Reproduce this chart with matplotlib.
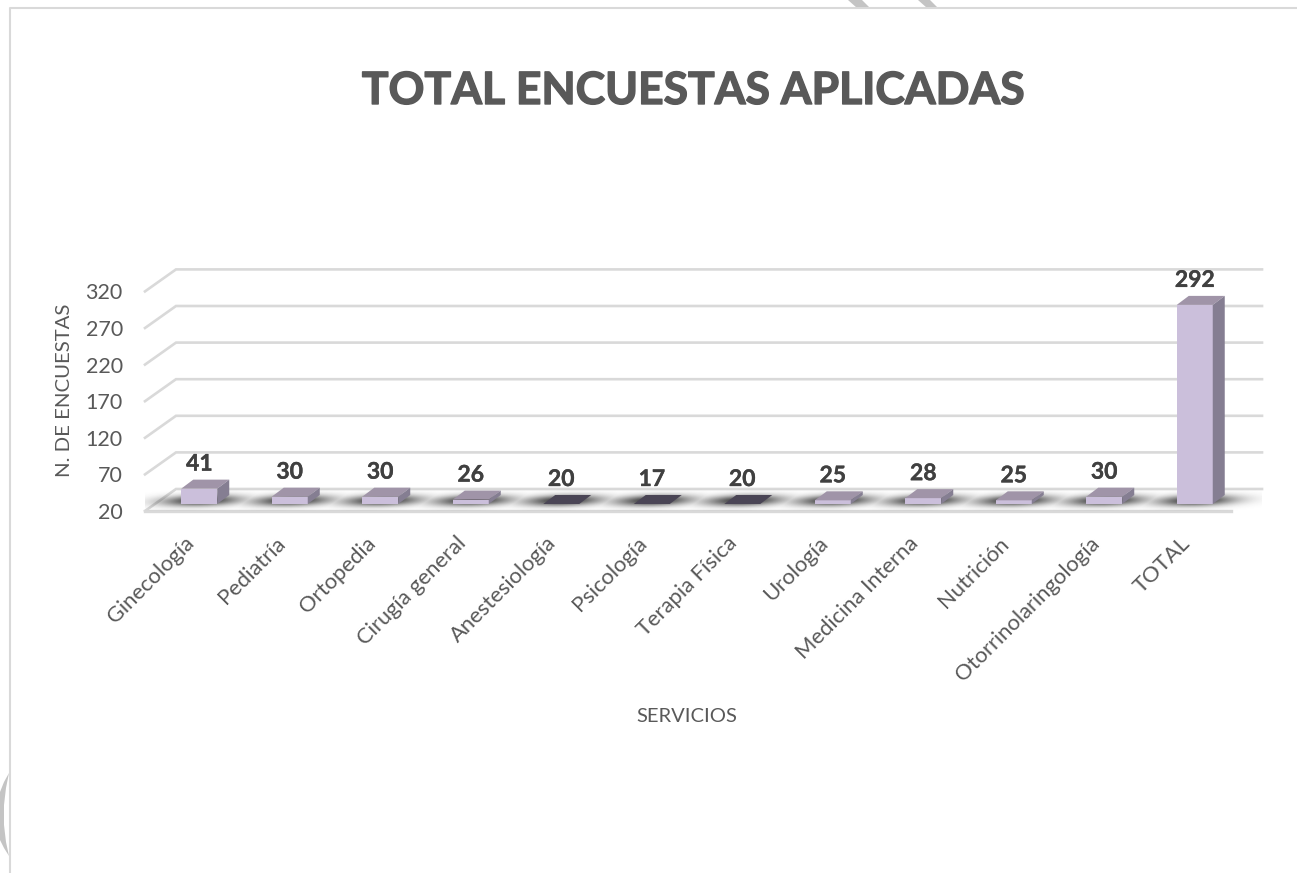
import matplotlib
matplotlib.use("Agg")
import matplotlib.pyplot as plt
import matplotlib.patheffects as pe
from matplotlib.patches import Polygon
from matplotlib.transforms import Affine2D
import numpy as np

plt.rcParams['font.family'] = ['Lato', 'DejaVu Sans']

categories = ["Ginecología", "Pediatría", "Ortopedia", "Cirugía general", "Anestesiología",
              "Psicología", "Terapia Física", "Urología", "Medicina Interna", "Nutrición",
              "Otorrinolaringología", "TOTAL"]
values = [41, 30, 30, 26, 20, 17, 20, 25, 28, 25, 30, 292]
y_ticks = [20, 70, 120, 170, 220, 270, 320]
title = "TOTAL ENCUESTAS APLICADAS"
x_label = "SERVICIOS"
y_label = "N. DE ENCUESTAS"

W, H = 1297, 873
fig = plt.figure(figsize=(W / 100, H / 100), dpi=100, facecolor="white")

# plot plane in pixels
L, R, B, T = 145, 1231, 511, 291.4
ax = fig.add_axes([L / W, 1 - B / H, (R - L) / W, (B - T) / H])
ax.patch.set_alpha(0)
for s in ax.spines.values():
    s.set_visible(False)

PX = 12 / (R - L)      # data x per pixel
PY = 300 / (B - T)     # data y per pixel


def sx(p):
    return p * PX


def sy(p):
    return p * PY


GRID = "#D9D9D9"
# gridlines on back wall and left wall
for v in y_ticks:
    ax.plot([-0.5, -0.5 + sx(31), 11.5 + sx(31)], [v, v + sy(22), v + sy(22)],
            color=GRID, lw=1.9, clip_on=False, zorder=1, solid_joinstyle="miter")
# floor front edge
ax.plot([-0.5, 11.5], [20, 20], color=GRID, lw=2.4, clip_on=False, zorder=1)

# soft floor shadow, one blurred patch per category
gx, gy = np.meshgrid(np.linspace(-0.5, 11.5 + sx(31), 1200), np.linspace(20, 20 + sy(22), 60))
dy_px = (gy - 20) / PY - 10.5          # pixels away from the shadow's mid line
alpha = np.zeros_like(gx)
for i in range(len(categories)):
    d_px = (gx - i) / PX - 11 - dy_px * 31 / 22
    alpha = np.maximum(alpha, np.exp(-(d_px / 38) ** 2))
alpha *= np.exp(-(dy_px / 5.5) ** 2) * 0.95
rgba = np.zeros(gx.shape + (4,))
rgba[..., :3] = 0.16
rgba[..., 3] = alpha
ax.imshow(rgba, extent=(gx.min(), gx.max(), gy.min(), gy.max()), origin="lower",
          aspect="auto", zorder=2, clip_on=False, interpolation="bilinear")

FACE, TOP, SIDE = "#CBBFDB", "#A094A8", "#857E92"
DARK = "#4A4555"
bw = sx(36)
ox, oy = sx(9), sy(7)       # bar front offset within the floor depth
ddx, ddy = sx(12), sy(9)    # bar depth
x_pos = np.arange(len(categories)) + ox
tops = np.maximum(values, 20) + oy
base = 20 + oy

ax.bar(x_pos, tops - base, bottom=base, width=bw, color=FACE, clip_on=False, zorder=3)
for x0, top, v in zip(x_pos, tops, values):
    l, r = x0 - bw / 2, x0 + bw / 2
    flat = v <= 20
    ax.add_patch(Polygon([(l, top), (r, top), (r + ddx, top + ddy), (l + ddx, top + ddy)],
                         facecolor=DARK if flat else TOP, edgecolor="none",
                         clip_on=False, zorder=4))
    if not flat:
        ax.add_patch(Polygon([(r, base), (r, top), (r + ddx, top + ddy), (r + ddx, base + ddy)],
                             facecolor=SIDE, edgecolor="none", clip_on=False, zorder=4))
    ax.text(x0, top + ddy + sy(5), str(v),
            ha="center", va="bottom", fontsize=16.5, fontweight="bold", color="#404040", zorder=5,
            path_effects=[pe.withStroke(linewidth=0.25, foreground="#404040")])

ax.set_xlim(-0.5, 11.5)
ax.set_ylim(20, 320)
ax.set_xticks(range(len(categories)))
ax.set_xticklabels(categories, rotation=45, ha="right", rotation_mode="anchor",
                   fontsize=15.8, color="#595959")
ax.set_yticks(y_ticks)
ax.set_yticklabels([str(v) for v in y_ticks], fontsize=15.5, color="#595959")
ax.tick_params(axis="x", length=0, pad=16)
ax.tick_params(axis="y", length=0, pad=16)
shift = Affine2D().translate(-6, 0)
for lab in ax.get_xticklabels():
    lab.set_transform(lab.get_transform() + shift)

fig.text(687 / W, 1 - 716 / H, x_label, ha="center", va="center", fontsize=14.5, color="#595959")
fig.text(64 / W, 1 - 390 / H, y_label, ha="center", va="center", rotation=90, fontsize=14.7, color="#595959")
fig.text(694 / W, 1 - 91 / H, title, ha="center", va="center", fontsize=32,
         fontweight="bold", color="#595959",
         path_effects=[pe.withStroke(linewidth=1.0, foreground="#595959")])

# chart frame and the scanned-page background marks
bg = fig.add_axes([0, 0, 1, 1], zorder=-1)
bg.set_xlim(0, W)
bg.set_ylim(H, 0)
bg.axis("off")
MARK = "#C4C4C4"
bg.add_patch(Polygon([(848, 0), (862, 0), (870, 8), (857, 8)], facecolor=MARK, edgecolor="none"))
bg.add_patch(Polygon([(918, 0), (930, 0), (938, 8), (927, 8)], facecolor=MARK, edgecolor="none"))
bg.add_patch(Polygon([(9, 773), (4, 782), (0, 792), (0, 840), (4, 848), (9, 856),
                      (6, 842), (4, 825), (4, 805), (6, 788)], facecolor=MARK, edgecolor="none"))
bg.plot([9.5, 9.5, W], [H, 8, 8], color="#D9D9D9", lw=1.5)

fig.savefig("out.png", dpi=100, facecolor="white")
